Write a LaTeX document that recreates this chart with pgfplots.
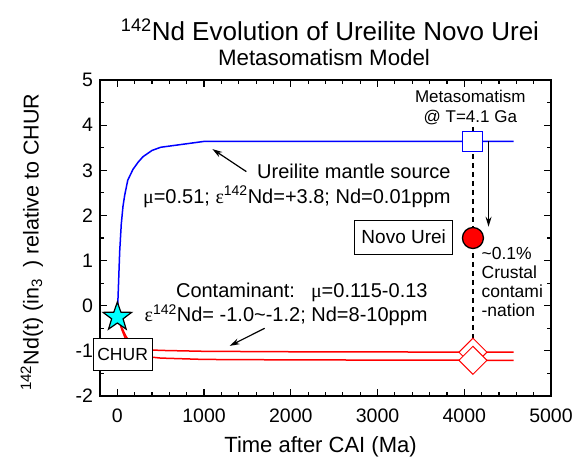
\documentclass[border=0pt]{standalone}
\usepackage{fontspec}
\setmainfont{Liberation Sans}
\newfontfamily\grk{Liberation Serif}
\usepackage{pgfplots}
\pgfplotsset{compat=1.18}
\usetikzlibrary{arrows.meta}
\definecolor{starcyan}{RGB}{0,255,255}
\newcommand\fs[1]{\fontsize{#1}{#1}\selectfont}
\pgfdeclareplotmark{fivestar}{%
\pgfpathmoveto{\pgfpointpolar{90}{\pgfplotmarksize}}%
\pgfpathlineto{\pgfpointpolar{126}{0.4\pgfplotmarksize}}%
\pgfpathlineto{\pgfpointpolar{162}{\pgfplotmarksize}}%
\pgfpathlineto{\pgfpointpolar{198}{0.4\pgfplotmarksize}}%
\pgfpathlineto{\pgfpointpolar{234}{\pgfplotmarksize}}%
\pgfpathlineto{\pgfpointpolar{270}{0.4\pgfplotmarksize}}%
\pgfpathlineto{\pgfpointpolar{306}{\pgfplotmarksize}}%
\pgfpathlineto{\pgfpointpolar{342}{0.4\pgfplotmarksize}}%
\pgfpathlineto{\pgfpointpolar{18}{\pgfplotmarksize}}%
\pgfpathlineto{\pgfpointpolar{54}{0.4\pgfplotmarksize}}%
\pgfpathclose\pgfusepathqfillstroke}
\begin{document}
\begin{tikzpicture}[x=1pt,y=1pt]
\useasboundingbox (0,0) rectangle (581,464);
\begin{axis}[
  at={(100pt,68pt)}, anchor=south west,
  width=451pt, height=316pt, scale only axis,
  xmin=-200, xmax=5000, ymin=-2, ymax=5,
  xtick={0,1000,...,5000}, ytick={-2,-1,...,5},
  minor x tick num=4, minor y tick num=1,
  tick align=inside,
  major tick length=7pt, minor tick length=4pt,
  axis line style={line width=1.5pt},
  every tick/.style={black, line width=1.2pt},
  tick label style={font=\fs{19.5}},
  xticklabel style={yshift=-9.5pt},
  yticklabel style={xshift=-3.5pt},
  /pgf/number format/assume math mode=true,
  /pgf/number format/1000 sep={},
  scaled x ticks=false,
  xlabel={Time after CAI (Ma)},
  xlabel style={font=\fs{22}, at={(axis description cs:0.489,-0.161)}, anchor=center},
  ylabel={\textsuperscript{142}Nd(t) (in\textsubscript{3}\hspace{0.5em}) relative to CHUR},
  ylabel style={font=\fs{21.5}, at={(axis description cs:-0.151,0.487)}, anchor=center},
  clip=false,
]
\addplot[blue, line width=1.5pt] coordinates {(0,-0.22) (12,0.4) (27,1.2) (45,1.8) (65,2.2) (85,2.45) (120,2.78) (180,3.02) (240,3.18) (295,3.3) (400,3.44) (500,3.51) (1000,3.64) (4568,3.64)};
\addplot[red, line width=1.5pt] coordinates {(0,-0.22)(50,-0.48)(100,-0.68)(150,-0.82)(200,-0.9)(300,-0.96)(400,-0.98)(500,-0.99)(1000,-1.01)(2000,-1.02)(4568,-1.03)};
\addplot[red, line width=1.5pt] coordinates {(0,-0.22)(50,-0.52)(100,-0.76)(150,-0.92)(200,-1.02)(300,-1.1)(400,-1.14)(500,-1.16)(1000,-1.19)(2000,-1.2)(4568,-1.21)};
\addplot[black, line width=1.2pt, dash pattern=on 5pt off 4pt] coordinates {(4100,3.96)(4100,-1.2)};
\addplot[only marks, mark=square*, mark size=10pt, mark options={draw=blue, fill=white, line width=1pt}] coordinates {(4100,3.64)};
\addplot[only marks, mark=square*, mark size=9.9pt, mark options={draw=red, fill=white, line width=1pt, rotate=45}] coordinates {(4100,-1.03)(4100,-1.21)};
\addplot[only marks, mark=*, mark size=10.5pt, mark options={draw=black, fill=red, line width=1.3pt}] coordinates {(4100,1.5)};
% arrows
\addplot[black, line width=1.2pt, -{Stealth[length=10pt,width=6pt]}] coordinates {(1488,2.97)(1096,3.47)};
\addplot[black, line width=1.2pt, -{Stealth[length=10pt,width=6pt]}] coordinates {(1699,-0.5)(1295,-0.89)};
\addplot[black, line width=1.2pt, -{Stealth[length=10pt,width=6pt]}] coordinates {(4280,3.64)(4280,1.75)};
% boxes and texts
\node[draw=black, fill=white, line width=1pt, minimum width=59pt, minimum height=32pt, inner sep=0pt, font=\fs{17.5}] at (axis cs:61,-1.07) {CHUR};
\addplot[only marks, mark=fivestar, mark size=15pt, mark options={fill=starcyan, draw=black, line width=1.2pt}] coordinates {(0,-0.25)};
\node[draw=black, fill=white, line width=1pt, minimum width=98pt, minimum height=34pt, inner sep=0pt, font=\fs{19}] at (axis cs:3302,1.52) {Novo Urei};
\node[font=\fs{20}, inner sep=0pt] at (axis cs:2727,2.98) {Ureilite mantle source};
\node[font=\fs{20}, inner sep=0pt] at (axis cs:2070,2.41) {{\grk μ}=0.51; {\grk ε}\textsuperscript{142}Nd=+3.8; Nd=0.01ppm};
\node[font=\fs{20}, inner sep=0pt] at (axis cs:2127,0.30) {Contaminant:\hspace{0.8em}{\grk μ}=0.115-0.13};
\node[font=\fs{20}, inner sep=0pt] at (axis cs:1946,-0.21) {{\grk ε}\textsuperscript{142}Nd= -1.0\textasciitilde-1.2; Nd=8-10ppm};
\node[font=\fontsize{17}{20}\selectfont, align=center, inner sep=0pt] at (axis cs:4070,4.40) {Metasomatism\\@ T=4.1 Ga};
\node[font=\fontsize{17.5}{19}\selectfont, align=left, anchor=west, inner sep=0pt] at (axis cs:4198,0.536) {\textasciitilde0.1\%\\Crustal\\contami\\-nation};
\end{axis}
\node[font=\fs{26}] at (330,434) {\textsuperscript{142}Nd Evolution of Ureilite Novo Urei};
\node[font=\fs{22.3}] at (324,406) {Metasomatism Model};
\end{tikzpicture}
\end{document}
